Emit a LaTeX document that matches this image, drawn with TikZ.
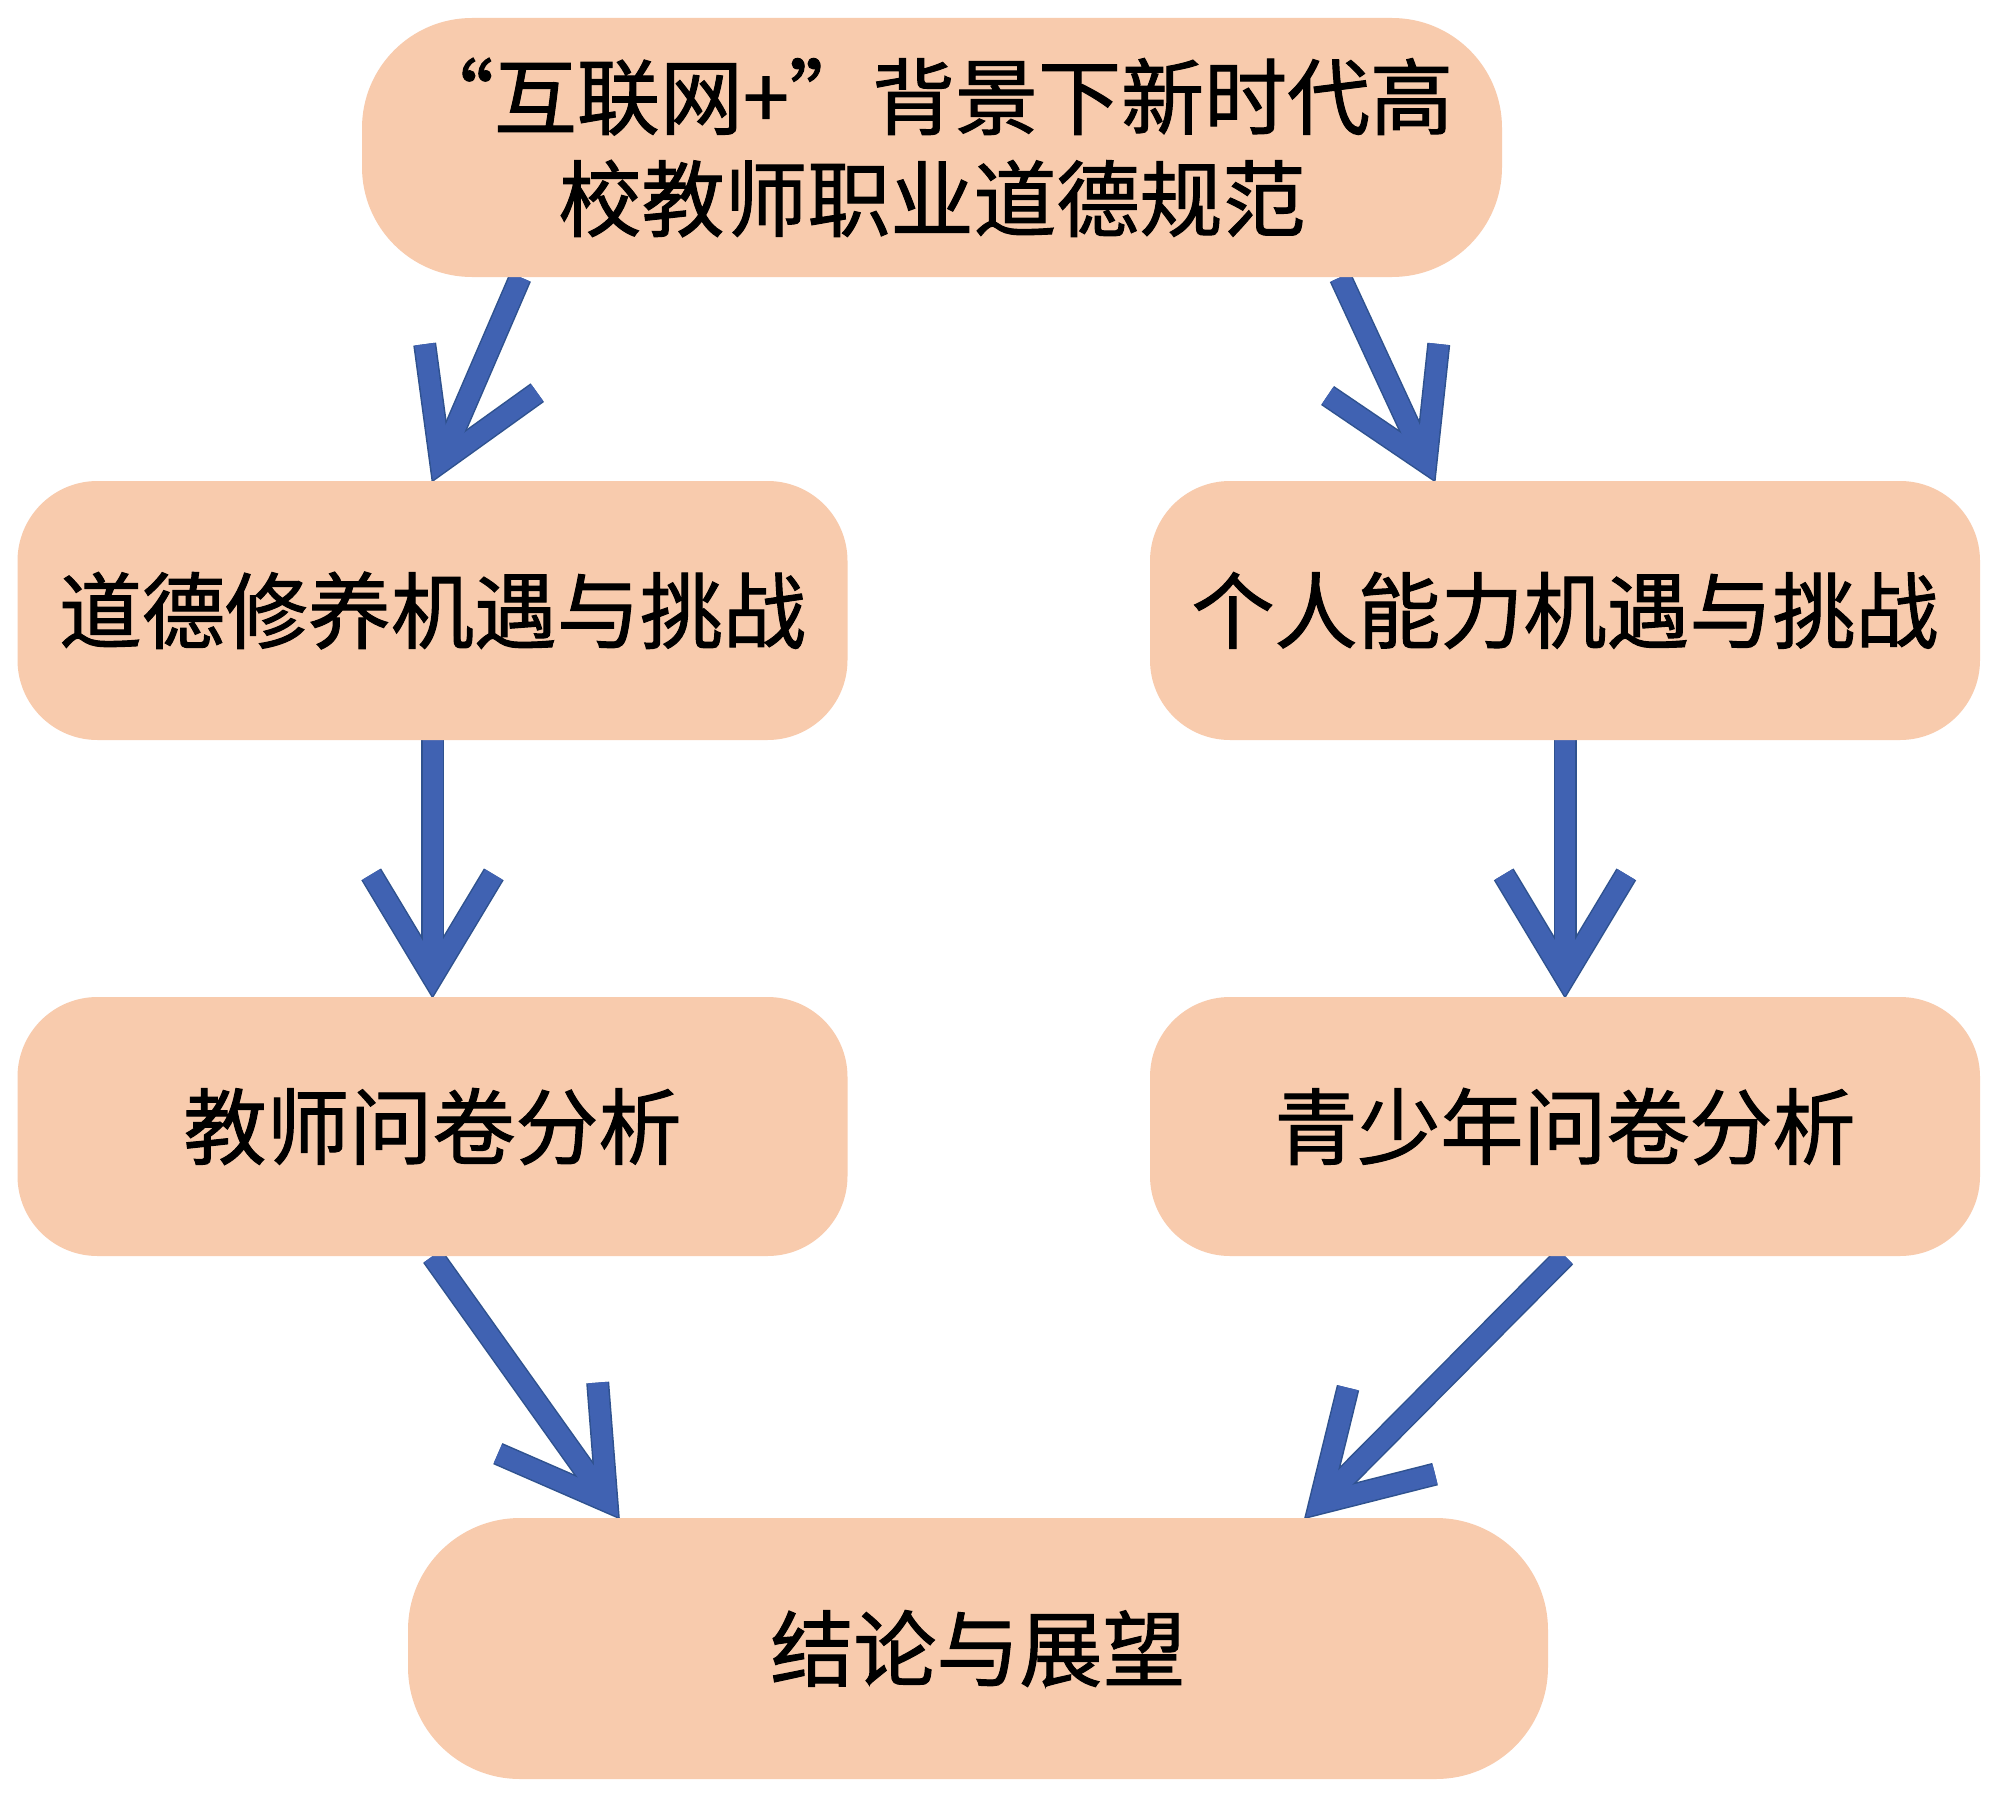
\documentclass[tikz,border=0pt]{standalone}
\usepackage{fontspec}
\setmainfont{Noto Sans CJK SC}[FakeBold=1.2]
\usetikzlibrary{calc,backgrounds}
\definecolor{peach}{RGB}{248,203,173}
\definecolor{arrfill}{RGB}{64,98,178}
\definecolor{arredge}{RGB}{47,82,143}
\tikzset{
  box/.style={fill=peach, draw=none, rectangle, inner sep=0pt, align=center,
    font=\fontsize{83pt}{102pt}\selectfont, text=black},
  edgeline/.style={draw=arredge, line width=23pt, line join=miter, line cap=butt},
  fillline/.style={draw=arrfill, line width=20pt, line join=miter, line cap=butt},
}
% #1 start coordinate, #2 tip coordinate
\newcommand{\chevarrow}[2]{%
  \path ($(#2)!20.4pt!(#1)$) coordinate (hc)
        ($(hc)!119pt!31:(#1)$) coordinate (ha)
        ($(hc)!119pt!-31:(#1)$) coordinate (hb);
  \draw[edgeline] (#1) -- (hc);
  \draw[edgeline] (ha) -- (hc) -- (hb);
  \draw[fillline] (#1) -- (hc);
  \draw[fillline] (ha) -- (hc) -- (hb);
}
\begin{document}
\begin{tikzpicture}[x=1pt,y=-1pt]
\useasboundingbox (0,0) rectangle (2000,1798);
\node[box, minimum width=1140pt, minimum height=259pt, rounded corners=110pt] (top) at (932,147.5)
  {“互联网+”背景下新时代高\\校教师职业道德规范};
\node[box, minimum width=830pt, minimum height=259pt, rounded corners=80pt] (lm) at (432.5,610.5)
  {道德修养机遇与挑战};
\node[box, minimum width=830pt, minimum height=259pt, rounded corners=80pt] (rm) at (1565,610.5)
  {个人能力机遇与挑战};
\node[box, minimum width=830pt, minimum height=259pt, rounded corners=80pt] (ll) at (432.5,1126.5)
  {教师问卷分析};
\node[box, minimum width=830pt, minimum height=259pt, rounded corners=80pt] (rl) at (1565,1126.5)
  {青少年问卷分析};
\node[box, minimum width=1140pt, minimum height=261pt, rounded corners=112pt] (bot) at (978,1648.5)
  {结论与展望};
\coordinate (s1) at ($(top.south west)!0.139!(top.south east)$);
\coordinate (s2) at ($(top.south west)!0.858!(top.south east)$);
\coordinate (t2) at ($(rm.north west)!0.343!(rm.north east)$);
\coordinate (t5) at ($(bot.north west)!0.185!(bot.north east)$);
\coordinate (t6) at ($(bot.north west)!0.787!(bot.north east)$);
\begin{scope}[on background layer]
\fill[white] (0,0) rectangle (2000,1798);
\chevarrow{s1}{lm.north}
\chevarrow{s2}{t2}
\chevarrow{lm.south}{ll.north}
\chevarrow{rm.south}{rl.north}
\chevarrow{ll.south}{t5}
\chevarrow{rl.south}{t6}
\end{scope}
\end{tikzpicture}
\end{document}
